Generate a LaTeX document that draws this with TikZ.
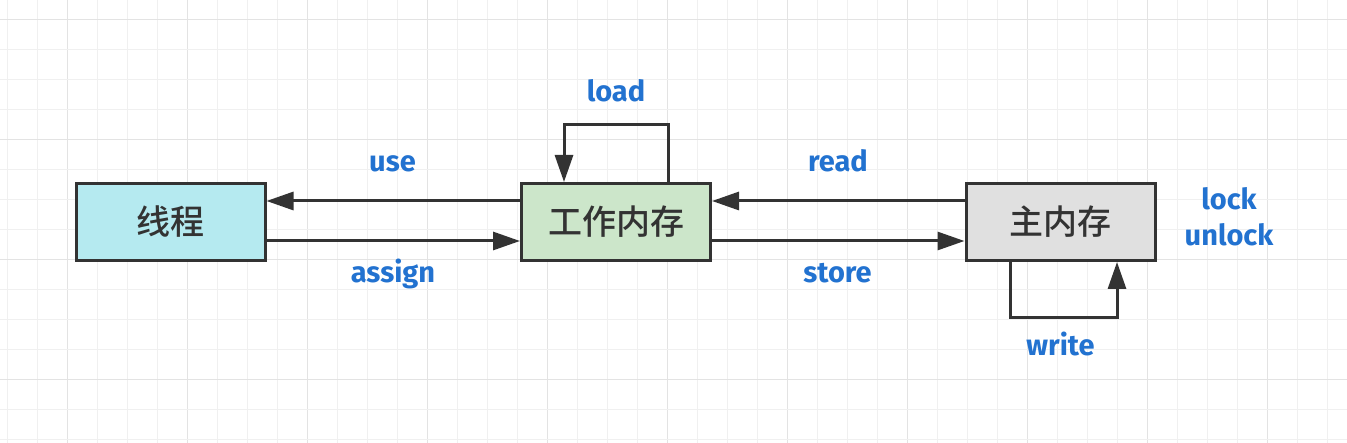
\documentclass[tikz,border=0pt]{standalone}
\usepackage{fontspec}
\setmainfont{Fira Sans}
\newfontfamily\cjk{Noto Sans CJK SC}[UprightFont={* Medium}]
\usetikzlibrary{arrows.meta}
\definecolor{gridA}{HTML}{F0F0F0}
\definecolor{gridB}{HTML}{E3E3E3}
\definecolor{edge}{HTML}{333333}
\definecolor{lbl}{HTML}{2272D0}
\definecolor{fillT}{HTML}{B5EAF0}
\definecolor{fillW}{HTML}{CCE6CA}
\definecolor{fillM}{HTML}{E0E0E0}
\tikzset{
  box/.style={draw=edge, line width=3pt, rectangle, minimum width=189pt, minimum height=77pt,
    inner sep=0pt, font=\cjk\fontsize{34}{40}\selectfont, text=edge},
  arr/.style={draw=edge, line width=3pt, -{Triangle[length=27pt,width=18pt]}},
  lab/.style={text=lbl, font=\bfseries\fontsize{29}{35}\selectfont, anchor=base, inner sep=0pt},
}
\begin{document}
\begin{tikzpicture}[x=1pt,y=-1pt]
\useasboundingbox (0,0) rectangle (1347,443);
\fill[white] (0,0) rectangle (1347,443);
% grid
\foreach \i in {0,...,44} {
  \pgfmathsetmacro{\gx}{7.5+30*\i}
  \pgfmathtruncatemacro{\m}{mod(\i+2,4)}
  \ifnum\m=0 \draw[gridB, line width=1pt] (\gx,0) -- (\gx,443);
  \else \draw[gridA, line width=1pt] (\gx,0) -- (\gx,443); \fi
}
\foreach \j in {0,...,14} {
  \pgfmathsetmacro{\gy}{19.5+30*\j}
  \pgfmathtruncatemacro{\m}{mod(\j,4)}
  \ifnum\m=0 \draw[gridB, line width=1pt] (0,\gy) -- (1347,\gy);
  \else \draw[gridA, line width=1pt] (0,\gy) -- (1347,\gy); \fi
}
% nodes
\node[box, fill=fillT] (th) at (170.5,222) {线程};
\node[box, fill=fillW] (wm) at (616,222) {工作内存};
\node[box, fill=fillM] (mm) at (1060.5,222) {主内存};
% helper coordinates
\coordinate (yup) at (0,201);
\coordinate (ylo) at (0,241);
\coordinate (l1) at (668,125);
\coordinate (l2) at (564,125);
\coordinate (w1) at (1010,318);
\coordinate (w2) at (1117,318);
% connectors
\draw[arr] (wm.west |- yup) -- (th.east |- yup);
\draw[arr] (th.east |- ylo) -- (wm.west |- ylo);
\draw[arr] (mm.west |- yup) -- (wm.east |- yup);
\draw[arr] (wm.east |- ylo) -- (mm.west |- ylo);
\draw[arr] (wm.north -| l1) -- (l1) -- (l2) -- (wm.north -| l2);
\draw[arr] (mm.south -| w1) -- (w1) -- (w2) -- (mm.south -| w2);
% labels
\node[lab] (tload) at (616,101.7) {load};
\node[lab] (tuse) at (392.5,171.7) {use};
\node[lab] (tassign) at (393,282.7) {assign};
\node[lab] (tread) at (838,171.7) {read};
\node[lab] (tstore) at (837.5,282.7) {store};
\node[lab] (tlock) at (1229,210) {lock};
\node[lab] (tunlock) at (1229,245.7) {unlock};
\node[lab] (twrite) at (1060.5,356) {write};
\end{tikzpicture}
\end{document}
